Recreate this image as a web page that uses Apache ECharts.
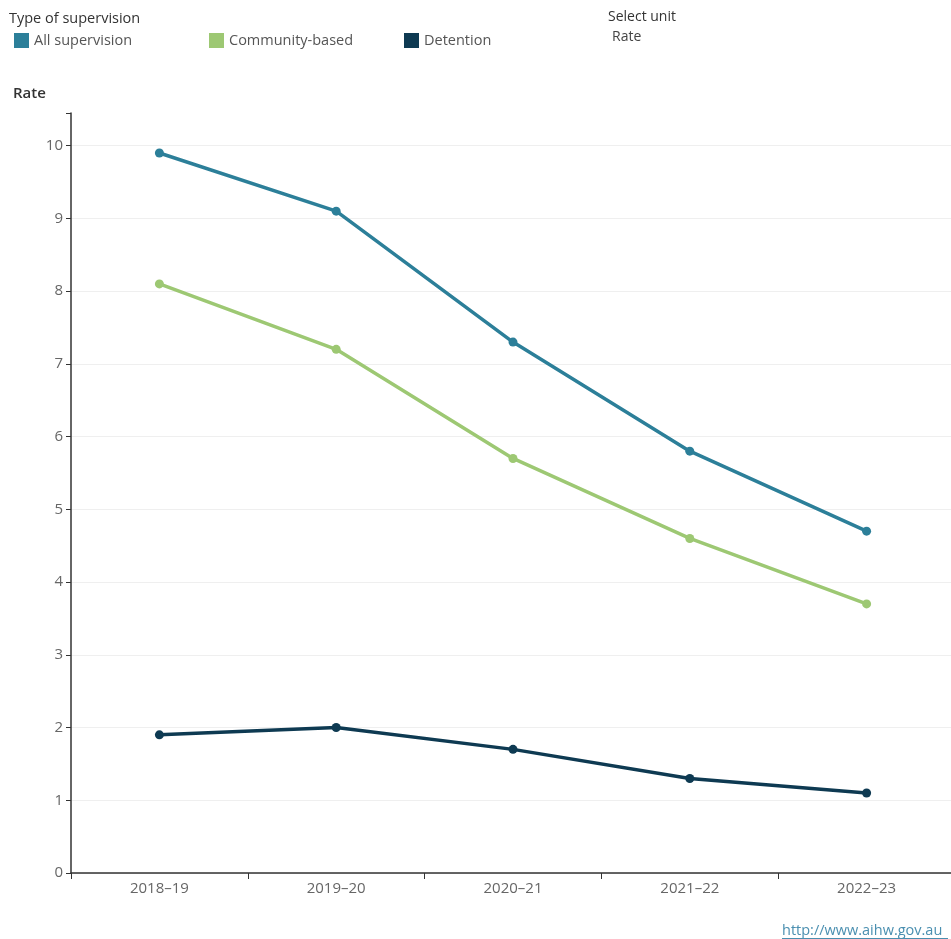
<!DOCTYPE html>
<html>
<head>
<meta charset="utf-8">
<script src="https://cdn.jsdelivr.net/npm/echarts@6/dist/echarts.min.js"></script>
<style>
  html, body { margin: 0; padding: 0; background: #fff; overflow: hidden; }
  #chart { width: 955px; height: 939px; }
</style>
</head>
<body>
<div id="chart"></div>
<script>
var years = ['2018–19', '2019–20', '2020–21', '2021–22', '2022–23'];
var allSupervision = [9.9, 9.1, 7.3, 5.8, 4.7];
var communityBased = [8.1, 7.2, 5.7, 4.6, 3.7];
var detention = [1.9, 2.0, 1.7, 1.3, 1.1];
var yTicks = [0, 1, 2, 3, 4, 5, 6, 7, 8, 9, 10];

var colors = ['#2c7f99', '#9dc873', '#0e3a52'];
var font = '"Open Sans", "Noto Sans", sans-serif';

function legendFor(name, left) {
  return {
    data: [name],
    left: left,
    top: 28,
    icon: 'rect',
    itemWidth: 15,
    itemHeight: 15,
    itemGap: 8,
    selectedMode: false,
    textStyle: { color: '#555', fontSize: 14.5, fontFamily: font }
  };
}

function lineSeries(name, data, color) {
  return {
    name: name,
    type: 'line',
    data: data,
    symbol: 'circle',
    symbolSize: 9,
    itemStyle: { color: color },
    lineStyle: { color: color, width: 3.5 }
  };
}

var chart = echarts.init(document.getElementById('chart'));
chart.setOption({
  animation: false,
  color: colors,
  textStyle: { fontFamily: font },
  legend: [
    legendFor('All supervision', 9),
    legendFor('Community-based', 204),
    legendFor('Detention', 399)
  ],
  graphic: [
    { type: 'text', left: 9, top: 11, style: { text: 'Type of supervision', fill: '#333', font: '14.5px ' + font } },
    { type: 'text', left: 608, top: 10, style: { text: 'Select unit', fill: '#333', font: '14px ' + font } },
    { type: 'text', left: 612, top: 30, style: { text: 'Rate', fill: '#444', font: '14px ' + font } },
    { type: 'text', left: 13, top: 86, style: { text: 'Rate', fill: '#333', font: '600 15px ' + font } },
    { type: 'text', left: 782, top: 923, style: { text: 'http://www.aihw.gov.au', fill: '#4a8fb0', font: '14.5px ' + font } },
    { type: 'line', shape: { x1: 782, y1: 938.5, x2: 948, y2: 938.5 }, style: { stroke: '#4a8fb0', lineWidth: 1 } }
  ],
  grid: { left: 71, right: 0, top: 113, bottom: 66 },
  xAxis: {
    type: 'category',
    data: years,
    boundaryGap: true,
    axisLine: { lineStyle: { color: '#333', width: 1.5 } },
    axisTick: { show: true, length: 6, lineStyle: { color: '#333' } },
    axisLabel: { color: '#666', fontSize: 15, margin: 8 }
  },
  yAxis: {
    type: 'value',
    min: 0,
    max: 10.45,
    interval: 1,
    axisLine: { show: true, lineStyle: { color: '#333', width: 1.5 } },
    axisTick: { show: true, length: 5, lineStyle: { color: '#333' } },
    axisLabel: {
      color: '#666', fontSize: 15, margin: 8,
      formatter: function (v) { return yTicks.indexOf(v) >= 0 ? String(v) : ''; }
    },
    splitLine: { show: true, showMaxLine: false, lineStyle: { color: '#efefef', width: 1 } }
  },
  series: [
    lineSeries('All supervision', allSupervision, colors[0]),
    lineSeries('Community-based', communityBased, colors[1]),
    lineSeries('Detention', detention, colors[2])
  ]
});
</script>
</body>
</html>
